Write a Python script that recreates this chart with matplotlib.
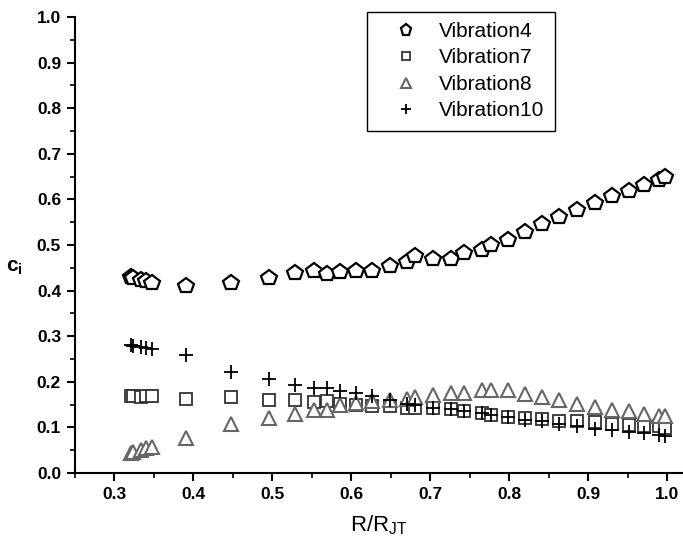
import matplotlib
matplotlib.use("Agg")
import matplotlib.pyplot as plt
from matplotlib.ticker import MultipleLocator, FormatStrFormatter

plt.rcParams['font.family'] = ['Liberation Sans', 'DejaVu Sans']
plt.rcParams['mathtext.fontset'] = 'custom'
plt.rcParams['mathtext.rm'] = 'Liberation Sans'
plt.rcParams['mathtext.it'] = 'Liberation Sans'
plt.rcParams['mathtext.bf'] = 'Liberation Sans:bold'

r_ratio = [0.321, 0.323, 0.333, 0.340, 0.347, 0.391, 0.448, 0.4955, 0.529, 0.5525,
           0.569, 0.5855, 0.6055, 0.6265, 0.649, 0.671, 0.680, 0.704, 0.726, 0.743,
           0.765, 0.777, 0.799, 0.820, 0.841, 0.863, 0.886, 0.908, 0.930, 0.952,
           0.971, 0.990, 0.997]

vib4 = [0.429, 0.428, 0.424, 0.420, 0.417, 0.411, 0.417, 0.428, 0.439, 0.442,
        0.436, 0.441, 0.444, 0.442, 0.455, 0.462, 0.475, 0.470, 0.470, 0.483,
        0.488, 0.501, 0.512, 0.529, 0.545, 0.561, 0.577, 0.592, 0.607, 0.619,
        0.632, 0.643, 0.650]

vib7 = [0.169, 0.168, 0.167, 0.168, 0.169, 0.163, 0.166, 0.161, 0.159, 0.156,
        0.157, 0.152, 0.149, 0.148, 0.146, 0.143, 0.143, 0.142, 0.140, 0.137,
        0.131, 0.128, 0.123, 0.121, 0.118, 0.115, 0.113, 0.111, 0.108, 0.106,
        0.104, 0.102, 0.099]

vib8 = [0.043, 0.045, 0.051, 0.055, 0.058, 0.077, 0.108, 0.121, 0.130, 0.139,
        0.139, 0.150, 0.1535, 0.157, 0.159, 0.163, 0.167, 0.170, 0.175, 0.176,
        0.181, 0.183, 0.181, 0.174, 0.166, 0.159, 0.151, 0.145, 0.139, 0.135,
        0.130, 0.126, 0.124]

vib10 = [0.280, 0.279, 0.277, 0.275, 0.273, 0.258, 0.222, 0.207, 0.194, 0.186,
         0.186, 0.179, 0.175, 0.168, 0.160, 0.152, 0.150, 0.143, 0.140, 0.137,
         0.132, 0.128, 0.122, 0.117, 0.113, 0.108, 0.102, 0.097, 0.094, 0.090,
         0.088, 0.084, 0.082]

labels = ['Vibration4', 'Vibration7', 'Vibration8', 'Vibration10']
x_ticks = [0.3, 0.4, 0.5, 0.6, 0.7, 0.8, 0.9, 1.0]

fig = plt.figure(figsize=(6.83, 5.46), dpi=100)
ax = fig.add_axes([75/683, 73/546, 608/683, 456/546])

ax.plot(r_ratio, vib4, linestyle='none', marker='p', markersize=11.5,
        markerfacecolor='white', markeredgecolor='black', markeredgewidth=1.6,
        label=labels[0])
ax.plot(r_ratio, vib7, linestyle='none', marker='s', markersize=8.5,
        markerfacecolor='white', markeredgecolor='#333333', markeredgewidth=1.3,
        label=labels[1])
ax.plot(r_ratio, vib8, linestyle='none', marker='^', markersize=10.5,
        markerfacecolor='white', markeredgecolor='#666666', markeredgewidth=1.5,
        label=labels[2])
ax.plot(r_ratio, vib10, linestyle='none', marker='+', markersize=10,
        markeredgecolor='black', markeredgewidth=1.3, label=labels[3])

ax.set_xlim(0.25, 1.02)
ax.set_ylim(0.0, 1.0)
ax.set_xticks(x_ticks)
ax.xaxis.set_minor_locator(MultipleLocator(0.05))
ax.yaxis.set_major_locator(MultipleLocator(0.1))
ax.yaxis.set_minor_locator(MultipleLocator(0.05))
ax.xaxis.set_major_formatter(FormatStrFormatter('%.1f'))
ax.yaxis.set_major_formatter(FormatStrFormatter('%.1f'))

for side in ['top', 'right']:
    ax.spines[side].set_visible(False)
for side in ['left', 'bottom']:
    ax.spines[side].set_linewidth(1.5)

ax.tick_params(which='major', direction='out', length=6, width=1.5,
               labelsize=12.5, pad=4)
ax.tick_params(which='minor', direction='out', length=3.5, width=1.2)
for lbl in ax.get_xticklabels() + ax.get_yticklabels():
    lbl.set_fontweight('bold')

ax.set_xlabel(r'R/R$_{\mathrm{JT}}$', fontsize=16, labelpad=8)
ax.set_ylabel(r'$\mathbf{c_i}$', fontsize=15, rotation=0)
ax.yaxis.set_label_coords(-0.10, 0.43)

leg = ax.legend(loc='upper left', bbox_to_anchor=(0.48, 1.012), fontsize=15,
                markerscale=0.7, frameon=True, fancybox=False, framealpha=1,
                edgecolor='black', handletextpad=0.15, labelspacing=0.36,
                borderpad=0.5, handlelength=2.8, borderaxespad=0)
leg.get_frame().set_linewidth(1.0)

fig.savefig('out.png', dpi=100)
